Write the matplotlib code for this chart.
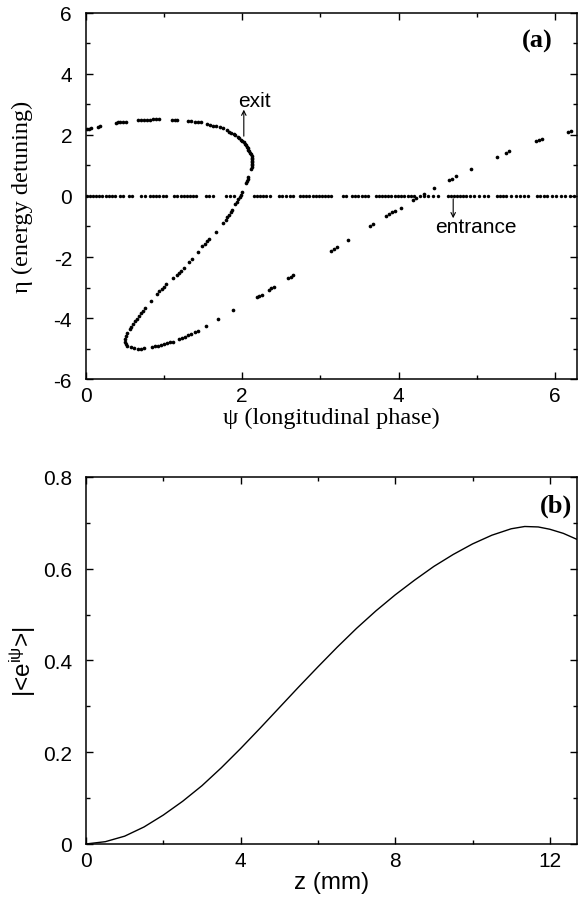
import matplotlib
matplotlib.use("Agg")
import matplotlib.pyplot as plt
from matplotlib.ticker import MultipleLocator, FuncFormatter
import numpy as np

# ---------------- data: panel (a) ----------------
# entrance distribution: particles at eta = 0
psi_entrance = [0.01, 0.05, 0.09, 0.13, 0.17, 0.21, 0.25, 0.29, 0.33, 0.37,
                0.43, 0.47, 0.55, 0.59, 0.70, 0.75,
                0.82, 0.86, 0.90, 0.94, 0.99, 1.03,
                1.13, 1.17, 1.21, 1.25, 1.29, 1.33, 1.37, 1.41,
                1.53, 1.58, 1.63, 1.79, 1.84, 1.89,
                2.15, 2.19, 2.23, 2.27, 2.31, 2.36,
                2.47, 2.51, 2.56, 2.61, 2.65,
                2.74, 2.78, 2.82, 2.86, 2.90, 2.94, 2.98, 3.02, 3.06, 3.10, 3.14,
                3.29, 3.33, 3.40, 3.44, 3.48, 3.53, 3.57, 3.61,
                3.71, 3.75, 3.79, 3.83, 3.87, 3.91, 3.95, 3.99, 4.03, 4.07, 4.12, 4.16, 4.20,
                4.28, 4.33, 4.38, 4.44, 4.50,
                4.63, 4.67, 4.71, 4.75, 4.79, 4.83, 4.87, 4.91, 4.97, 5.03, 5.09, 5.14,
                5.26, 5.30, 5.34, 5.38, 5.44, 5.50, 5.55, 5.60, 5.66,
                5.77, 5.81, 5.86, 5.90, 5.96, 6.02, 6.08, 6.13, 6.20, 6.25]
eta_entrance = [0.0] * len(psi_entrance)

# exit distribution (psi, eta)
psi_exit = [0.01, 0.04, 0.07, 0.15, 0.18,
            0.38, 0.41, 0.44, 0.48, 0.51,
            0.66, 0.70, 0.74, 0.78, 0.82, 0.86, 0.90, 0.94,
            1.10, 1.14, 1.17,
            1.31, 1.35, 1.39, 1.43, 1.47,
            1.55, 1.59, 1.63, 1.67, 1.71, 1.75,
            1.80, 1.83, 1.86, 1.89, 1.91, 1.94, 1.96, 1.98, 2.00, 2.02, 2.03, 2.05, 2.06,
            2.07, 2.08, 2.09, 2.10, 2.11, 2.12, 2.12, 2.13, 2.13, 2.13, 2.13, 2.13, 2.12, 2.11,
            2.08, 2.07, 2.06, 2.05,
            2.00, 1.98, 1.97, 1.95, 1.93, 1.91,
            1.87, 1.85, 1.83, 1.81, 1.79, 1.76,
            1.66,
            1.58, 1.55, 1.52, 1.49,
            1.43,
            1.36, 1.32,
            1.25, 1.22, 1.19, 1.16, 1.12,
            1.03, 1.00, 0.97, 0.94, 0.91,
            0.83,
            0.76, 0.73, 0.70, 0.68, 0.65, 0.63, 0.60, 0.58, 0.56,
            0.53, 0.51, 0.50, 0.50, 0.51, 0.53, 0.57, 0.62, 0.66, 0.70, 0.74,
            0.84, 0.88, 0.92, 0.96, 1.00, 1.04, 1.08, 1.12,
            1.19, 1.23, 1.27, 1.31, 1.35, 1.39, 1.43,
            1.53, 1.69, 1.88,
            2.19, 2.22, 2.25,
            2.34, 2.37, 2.41,
            2.59, 2.62, 2.65,
            3.14, 3.18, 3.21,
            3.35,
            3.64, 3.68,
            3.84, 3.88, 3.92, 3.96,
            4.03, 4.18, 4.22,
            4.33, 4.45,
            4.64, 4.68, 4.74, 4.93,
            5.26, 5.38, 5.42,
            5.76, 5.80, 5.84,
            6.17, 6.21]
eta_exit = [2.19, 2.20, 2.22, 2.27, 2.29,
            2.40, 2.41, 2.42, 2.43, 2.44,
            2.48, 2.49, 2.49, 2.50, 2.50, 2.51, 2.51, 2.51,
            2.50, 2.50, 2.49,
            2.46, 2.45, 2.44, 2.43, 2.41,
            2.36, 2.34, 2.31, 2.28, 2.25, 2.22,
            2.15, 2.11, 2.07, 2.03, 1.99, 1.94, 1.90, 1.85, 1.81, 1.76, 1.71, 1.66, 1.61,
            1.56, 1.51, 1.46, 1.41, 1.36, 1.30, 1.25, 1.20, 1.15, 1.10, 1.05, 1.00, 0.95, 0.90,
            0.62, 0.55, 0.48, 0.41,
            0.12, 0.04, -0.03, -0.11, -0.19, -0.27,
            -0.46, -0.54, -0.62, -0.70, -0.78, -0.88,
            -1.19,
            -1.41, -1.48, -1.56, -1.65,
            -1.85,
            -2.07, -2.18,
            -2.37, -2.45, -2.52, -2.60, -2.68,
            -2.89, -2.97, -3.05, -3.13, -3.22,
            -3.45,
            -3.68, -3.76, -3.84, -3.93, -4.02, -4.10, -4.19, -4.28, -4.37,
            -4.50, -4.60, -4.70, -4.78, -4.85, -4.91, -4.96, -4.99, -5.00, -5.00, -4.99,
            -4.95, -4.93, -4.91, -4.88, -4.86, -4.83, -4.80, -4.77,
            -4.70, -4.66, -4.61, -4.56, -4.51, -4.46, -4.41,
            -4.27, -4.03, -3.74,
            -3.32, -3.28, -3.24,
            -3.08, -3.03, -2.97,
            -2.70, -2.65, -2.60,
            -1.79, -1.73, -1.68,
            -1.44,
            -0.98, -0.91,
            -0.66, -0.60, -0.54, -0.49,
            -0.38, -0.12, -0.07,
            0.08, 0.26,
            0.52, 0.56, 0.64, 0.88,
            1.27, 1.42, 1.46,
            1.79, 1.83, 1.86,
            2.09, 2.12]

# ---------------- data: panel (b) ----------------
z_mm = [0.0, 0.5, 1.0, 1.5, 2.0, 2.5, 3.0, 3.5, 4.0, 4.5, 5.0, 5.5, 6.0, 6.5,
        7.0, 7.5, 8.0, 8.5, 9.0, 9.5, 10.0, 10.5, 11.0, 11.35, 11.7, 12.0, 12.35, 12.7]
bunching = [0.0, 0.005, 0.017, 0.037, 0.063, 0.093, 0.127, 0.166, 0.208, 0.252,
            0.297, 0.342, 0.386, 0.429, 0.470, 0.508, 0.543, 0.575, 0.605, 0.631,
            0.654, 0.673, 0.687, 0.692, 0.691, 0.686, 0.677, 0.664]

# ---------------- figure ----------------
plt.rcParams['font.family'] = ['Liberation Sans', 'DejaVu Sans']
plt.rcParams['mathtext.fontset'] = 'custom'
plt.rcParams['mathtext.rm'] = 'Liberation Sans'
plt.rcParams['mathtext.it'] = 'Liberation Sans:italic'
plt.rcParams['axes.unicode_minus'] = False

fig = plt.figure(figsize=(5.83, 9.04), dpi=100)
ax1 = fig.add_axes([0.1475, 0.5796, 0.842, 0.405])
ax2 = fig.add_axes([0.1475, 0.0653, 0.842, 0.406])

serif = ['Liberation Serif', 'DejaVu Serif']
TICK = 15
LAB = 17.5

def style(ax):
    ax.tick_params(which='both', direction='in', top=True, right=True, labelsize=TICK,
                   width=1.0)
    ax.tick_params(axis='x', which='both', pad=5)
    ax.tick_params(axis='y', which='both', pad=10)
    ax.tick_params(which='major', length=5)
    ax.tick_params(which='minor', length=3)
    for s in ax.spines.values():
        s.set_linewidth(1.1)

# panel (a)
ax1.scatter(psi_entrance, eta_entrance, s=6, c='black', linewidths=0)
ax1.scatter(psi_exit, eta_exit, s=7, c='black', linewidths=0)
ax1.set_xlim(0, 2 * np.pi)
ax1.set_ylim(-6, 6)
ax1.xaxis.set_major_locator(MultipleLocator(2))
ax1.xaxis.set_minor_locator(MultipleLocator(1))
ax1.yaxis.set_major_locator(MultipleLocator(2))
ax1.yaxis.set_minor_locator(MultipleLocator(1))
style(ax1)
ax1.set_xlabel('ψ (longitudinal phase)', family=serif, fontsize=LAB)
ax1.set_ylabel('η (energy detuning)', family=serif, fontsize=LAB)
ax1.xaxis.set_label_coords(0.5, -0.075)
ax1.yaxis.set_label_coords(-0.108, 0.5)
ax1.text(0.95, 0.955, '(a)', transform=ax1.transAxes, ha='right', va='top',
         family=serif, fontweight='bold', fontsize=19)
arrow = dict(arrowstyle='->', lw=0.8, color='black', mutation_scale=8)
ax1.annotate('', xy=(2.02, 2.92), xytext=(2.02, 1.87), arrowprops=arrow)
ax1.text(2.15, 3.12, 'exit', ha='center', va='center', fontsize=15)
ax1.annotate('', xy=(4.70, -0.82), xytext=(4.70, 0.0), arrowprops=arrow)
ax1.text(4.99, -1.0, 'entrance', ha='center', va='center', fontsize=15)

# panel (b)
ax2.plot(z_mm, bunching, color='black', lw=1.0)
ax2.set_xlim(0, 12.7)
ax2.set_ylim(0, 0.8)
ax2.xaxis.set_major_locator(MultipleLocator(4))
ax2.xaxis.set_minor_locator(MultipleLocator(2))
ax2.yaxis.set_major_locator(MultipleLocator(0.2))
ax2.yaxis.set_minor_locator(MultipleLocator(0.1))
ax2.yaxis.set_major_formatter(FuncFormatter(
    lambda v, p: '0' if abs(v) < 1e-9 else f'{v:.1f}'))
style(ax2)
ax2.set_xlabel('z (mm)', fontsize=LAB)
ax2.set_ylabel(r'|<e$^{\mathrm{iψ}}$>|', fontsize=LAB)
ax2.xaxis.set_label_coords(0.5, -0.075)
ax2.yaxis.set_label_coords(-0.097, 0.5)
ax2.text(0.99, 0.955, '(b)', transform=ax2.transAxes, ha='right', va='top',
         family=serif, fontweight='bold', fontsize=19)

fig.savefig('out.png', dpi=100)
